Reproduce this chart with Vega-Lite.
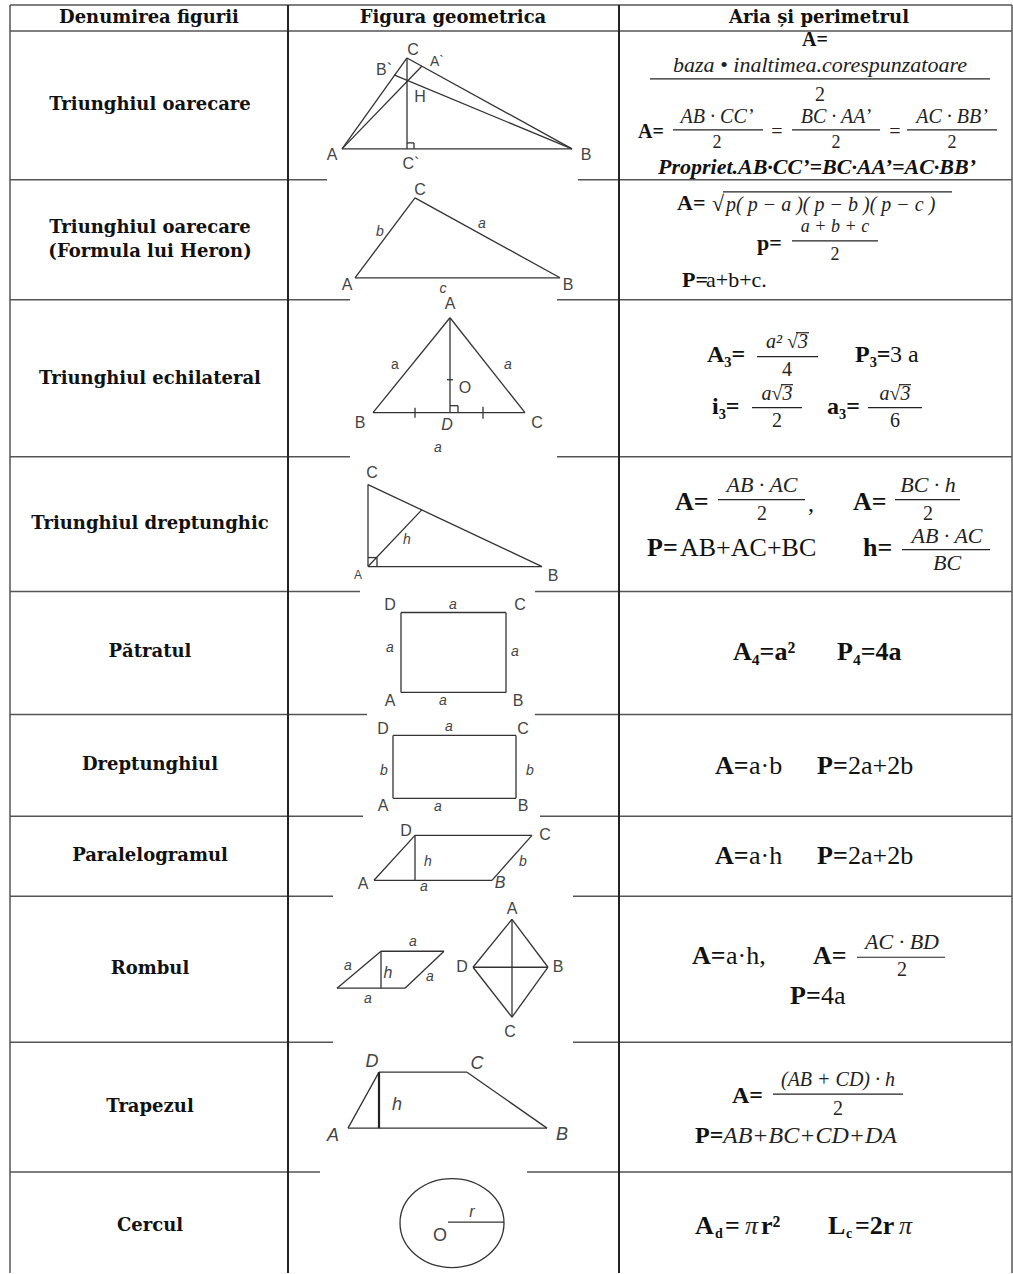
{
  "$schema": "https://vega.github.io/schema/vega-lite/v6.json",
  "width": 1013,
  "height": 1274,
  "autosize": {"type": "fit", "contains": "padding"},
  "padding": 0,
  "background": "white",
  "config": {"view": {"stroke": null}},
  "datasets": {
    "segs": [
      {"k":"grid","x":10,"y":5,"x2":1012,"y2":5},
      {"k":"grid","x":10,"y":31,"x2":1012,"y2":31},
      {"k":"grid","x":10,"y":180,"x2":327,"y2":180},
      {"k":"grid","x":578,"y":180,"x2":1012,"y2":180},
      {"k":"grid","x":10,"y":300,"x2":350,"y2":300},
      {"k":"grid","x":557,"y":300,"x2":1012,"y2":300},
      {"k":"grid","x":10,"y":457,"x2":350,"y2":457},
      {"k":"grid","x":557,"y":457,"x2":1012,"y2":457},
      {"k":"grid","x":10,"y":592,"x2":360,"y2":592},
      {"k":"grid","x":535,"y":592,"x2":1012,"y2":592},
      {"k":"grid","x":10,"y":715,"x2":367,"y2":715},
      {"k":"grid","x":535,"y":715,"x2":1012,"y2":715},
      {"k":"grid","x":10,"y":817,"x2":363,"y2":817},
      {"k":"grid","x":540,"y":817,"x2":1012,"y2":817},
      {"k":"grid","x":10,"y":897,"x2":333,"y2":897},
      {"k":"grid","x":573,"y":897,"x2":1012,"y2":897},
      {"k":"grid","x":10,"y":1043,"x2":333,"y2":1043},
      {"k":"grid","x":573,"y":1043,"x2":1012,"y2":1043},
      {"k":"grid","x":10,"y":1173,"x2":320,"y2":1173},
      {"k":"grid","x":527,"y":1173,"x2":1012,"y2":1173},
      {"k":"grid","x":10,"y":5,"x2":10,"y2":1274},
      {"k":"grid","x":1012,"y":5,"x2":1012,"y2":1274},
      {"k":"col","x":288,"y":5,"x2":288,"y2":1274},
      {"k":"col","x":619,"y":5,"x2":619,"y2":1274},

      {"k":"fig","x":342,"y":149,"x2":572,"y2":149},
      {"k":"fig","x":342,"y":149,"x2":407,"y2":58},
      {"k":"fig","x":407,"y":58,"x2":572,"y2":149},
      {"k":"fig","x":407,"y":58,"x2":407,"y2":149},
      {"k":"fig","x":342,"y":149,"x2":422,"y2":66},
      {"k":"fig","x":572,"y":149,"x2":394,"y2":75},
      {"k":"fig","x":407,"y":143,"x2":414,"y2":143},
      {"k":"fig","x":414,"y":143,"x2":414,"y2":149},

      {"k":"fig","x":355,"y":278,"x2":560,"y2":278},
      {"k":"fig","x":355,"y":278,"x2":415,"y2":198},
      {"k":"fig","x":415,"y":198,"x2":560,"y2":278},

      {"k":"fig","x":450,"y":318,"x2":373,"y2":413},
      {"k":"fig","x":450,"y":318,"x2":525,"y2":413},
      {"k":"fig","x":373,"y":413,"x2":525,"y2":413},
      {"k":"fig","x":450,"y":318,"x2":450,"y2":413},
      {"k":"fig","x":450,"y":406,"x2":458,"y2":406},
      {"k":"fig","x":458,"y":406,"x2":458,"y2":413},
      {"k":"fig","x":415,"y":408,"x2":415,"y2":418},
      {"k":"fig","x":483,"y":407,"x2":483,"y2":419},
      {"k":"fig","x":447,"y":380,"x2":453,"y2":380},

      {"k":"fig","x":368,"y":485,"x2":368,"y2":567},
      {"k":"fig","x":368,"y":567,"x2":542,"y2":567},
      {"k":"fig","x":368,"y":485,"x2":542,"y2":567},
      {"k":"fig","x":368,"y":567,"x2":422,"y2":510},
      {"k":"fig","x":368,"y":558,"x2":377,"y2":558},
      {"k":"fig","x":377,"y":558,"x2":377,"y2":567},

      {"k":"fig","x":401,"y":613,"x2":506,"y2":613},
      {"k":"fig","x":506,"y":613,"x2":506,"y2":693},
      {"k":"fig","x":506,"y":693,"x2":401,"y2":693},
      {"k":"fig","x":401,"y":693,"x2":401,"y2":613},

      {"k":"fig","x":393,"y":736,"x2":516,"y2":736},
      {"k":"fig","x":516,"y":736,"x2":516,"y2":799},
      {"k":"fig","x":516,"y":799,"x2":393,"y2":799},
      {"k":"fig","x":393,"y":799,"x2":393,"y2":736},

      {"k":"fig","x":374,"y":881,"x2":492,"y2":881},
      {"k":"fig","x":492,"y":881,"x2":532,"y2":836},
      {"k":"fig","x":532,"y":836,"x2":415,"y2":836},
      {"k":"fig","x":415,"y":836,"x2":374,"y2":881},
      {"k":"fig","x":415,"y":836,"x2":415,"y2":881},

      {"k":"fig","x":337,"y":989,"x2":405,"y2":989},
      {"k":"fig","x":405,"y":989,"x2":444,"y2":952},
      {"k":"fig","x":444,"y":952,"x2":381,"y2":952},
      {"k":"fig","x":381,"y":952,"x2":337,"y2":989},
      {"k":"fig","x":381,"y":952,"x2":381,"y2":989},
      {"k":"fig","x":512,"y":920,"x2":548,"y2":968},
      {"k":"fig","x":548,"y":968,"x2":512,"y2":1018},
      {"k":"fig","x":512,"y":1018,"x2":473,"y2":968},
      {"k":"fig","x":473,"y":968,"x2":512,"y2":920},
      {"k":"fig","x":512,"y":920,"x2":512,"y2":1018},
      {"k":"fig","x":473,"y":968,"x2":548,"y2":968},

      {"k":"fig","x":348,"y":1129,"x2":547,"y2":1129},
      {"k":"fig","x":547,"y":1129,"x2":467,"y2":1073},
      {"k":"fig","x":467,"y":1073,"x2":379,"y2":1073},
      {"k":"fig","x":379,"y":1073,"x2":348,"y2":1129},
      {"k":"thick","x":379,"y":1073,"x2":379,"y2":1129},

      {"k":"fig","x":448,"y":1223,"x2":504,"y2":1223},

      {"k":"bar","x":650,"y":79,"x2":990,"y2":79},
      {"k":"bar","x":673,"y":130,"x2":763,"y2":130},
      {"k":"bar","x":792,"y":130,"x2":880,"y2":130},
      {"k":"bar","x":907,"y":130,"x2":997,"y2":130},
      {"k":"bar","x":723,"y":192,"x2":952,"y2":192},
      {"k":"bar","x":792,"y":241,"x2":878,"y2":241},
      {"k":"bar","x":796,"y":333,"x2":809,"y2":333},
      {"k":"bar","x":757,"y":357,"x2":818,"y2":357},
      {"k":"bar","x":781,"y":385,"x2":793,"y2":385},
      {"k":"bar","x":752,"y":408,"x2":802,"y2":408},
      {"k":"bar","x":899,"y":385,"x2":911,"y2":385},
      {"k":"bar","x":868,"y":408,"x2":922,"y2":408},
      {"k":"bar","x":718,"y":500,"x2":805,"y2":500},
      {"k":"bar","x":895,"y":500,"x2":960,"y2":500},
      {"k":"bar","x":902,"y":550,"x2":990,"y2":550},
      {"k":"bar","x":857,"y":958,"x2":945,"y2":958},
      {"k":"bar","x":773,"y":1095,"x2":903,"y2":1095}
    ],
    "circ": [
      {"x":452,"y":1224}
    ],
    "texts": [
      {"k":"T","t":"Denumirea figurii","x":149,"y":18,"s":"d"},
      {"k":"T","t":"Figura geometrica","x":453,"y":18,"s":"d"},
      {"k":"T","t":"Aria și perimetrul","x":819,"y":18,"s":"d"},
      {"k":"T","t":"Triunghiul oarecare","x":150,"y":105,"s":"d"},
      {"k":"T","t":"Triunghiul oarecare","x":150,"y":228,"s":"d"},
      {"k":"T","t":"(Formula lui Heron)","x":150,"y":252,"s":"d"},
      {"k":"T","t":"Triunghiul echilateral","x":150,"y":379,"s":"d"},
      {"k":"T","t":"Triunghiul dreptunghic","x":150,"y":524,"s":"d"},
      {"k":"T","t":"Pătratul","x":150,"y":653,"s":"d"},
      {"k":"T","t":"Dreptunghiul","x":150,"y":766,"s":"d"},
      {"k":"T","t":"Paralelogramul","x":150,"y":857,"s":"d"},
      {"k":"T","t":"Rombul","x":150,"y":970,"s":"d"},
      {"k":"T","t":"Trapezul","x":150,"y":1108,"s":"d"},
      {"k":"T","t":"Cercul","x":150,"y":1227,"s":"d"},

      {"k":"BC","t":"A=","x":815,"y":40,"s":"e"},
      {"k":"IC","t":"baza • inaltimea.corespunzatoare","x":820,"y":65,"s":"f"},
      {"k":"RC","t":"2","x":820,"y":95,"s":"e"},
      {"k":"BL","t":"A=","x":638,"y":132,"s":"e"},
      {"k":"IC","t":"AB · CC’","x":717,"y":117,"s":"e"},
      {"k":"RC","t":"2","x":717,"y":143,"s":"d"},
      {"k":"RC","t":"=","x":777,"y":132,"s":"e"},
      {"k":"IC","t":"BC · AA’","x":836,"y":117,"s":"e"},
      {"k":"RC","t":"2","x":836,"y":143,"s":"d"},
      {"k":"RC","t":"=","x":895,"y":132,"s":"e"},
      {"k":"IC","t":"AC · BB’","x":952,"y":117,"s":"e"},
      {"k":"RC","t":"2","x":952,"y":143,"s":"d"},
      {"k":"BIC","t":"Propriet.AB·CC’=BC·AA’=AC·BB’","x":817,"y":167,"s":"f"},

      {"k":"BL","t":"A=","x":677,"y":203,"s":"f"},
      {"k":"RL","t":"√","x":712,"y":204,"s":"f"},
      {"k":"IL","t":"p( p − a )( p − b )( p − c )","x":726,"y":205,"s":"e"},
      {"k":"BL","t":"p=","x":757,"y":243,"s":"f"},
      {"k":"IC","t":"a + b + c","x":835,"y":227,"s":"d"},
      {"k":"RC","t":"2","x":835,"y":255,"s":"d"},
      {"k":"BL","t":"P=","x":682,"y":280,"s":"f"},
      {"k":"RL","t":"a+b+c.","x":706,"y":280,"s":"f"},

      {"k":"BL","t":"A₃=","x":707,"y":355,"s":"g"},
      {"k":"IC","t":"a² √3","x":787,"y":342,"s":"e"},
      {"k":"RC","t":"4","x":787,"y":370,"s":"e"},
      {"k":"BL","t":"P₃=","x":855,"y":355,"s":"g"},
      {"k":"RL","t":"3 a","x":890,"y":355,"s":"g"},
      {"k":"BL","t":"i₃=","x":712,"y":407,"s":"g"},
      {"k":"IC","t":"a√3","x":777,"y":394,"s":"e"},
      {"k":"RC","t":"2","x":777,"y":421,"s":"e"},
      {"k":"BL","t":"a₃=","x":827,"y":407,"s":"g"},
      {"k":"IC","t":"a√3","x":895,"y":394,"s":"e"},
      {"k":"RC","t":"6","x":895,"y":421,"s":"e"},

      {"k":"BL","t":"A=","x":675,"y":502,"s":"h"},
      {"k":"IC","t":"AB · AC","x":762,"y":485,"s":"f"},
      {"k":"RC","t":"2","x":762,"y":514,"s":"e"},
      {"k":"RL","t":",","x":808,"y":504,"s":"g"},
      {"k":"BL","t":"A=","x":853,"y":502,"s":"h"},
      {"k":"IC","t":"BC · h","x":928,"y":485,"s":"f"},
      {"k":"RC","t":"2","x":928,"y":514,"s":"e"},
      {"k":"BL","t":"P=","x":647,"y":548,"s":"h"},
      {"k":"RL","t":"AB+AC+BC","x":680,"y":548,"s":"h"},
      {"k":"BL","t":"h=","x":863,"y":548,"s":"h"},
      {"k":"IC","t":"AB · AC","x":947,"y":536,"s":"f"},
      {"k":"IC","t":"BC","x":947,"y":563,"s":"f"},

      {"k":"BL","t":"A₄=a²","x":733,"y":653,"s":"h"},
      {"k":"BL","t":"P₄=4a","x":837,"y":653,"s":"h"},

      {"k":"BL","t":"A=","x":715,"y":767,"s":"h"},
      {"k":"RL","t":"a·b","x":749,"y":767,"s":"h"},
      {"k":"BL","t":"P=","x":817,"y":767,"s":"h"},
      {"k":"RL","t":"2a+2b","x":848,"y":767,"s":"h"},

      {"k":"BL","t":"A=","x":715,"y":857,"s":"h"},
      {"k":"RL","t":"a·h","x":749,"y":857,"s":"h"},
      {"k":"BL","t":"P=","x":817,"y":857,"s":"h"},
      {"k":"RL","t":"2a+2b","x":848,"y":857,"s":"h"},

      {"k":"BL","t":"A=","x":692,"y":957,"s":"h"},
      {"k":"RL","t":"a·h,","x":726,"y":957,"s":"h"},
      {"k":"BL","t":"A=","x":813,"y":957,"s":"h"},
      {"k":"IC","t":"AC · BD","x":902,"y":943,"s":"f"},
      {"k":"RC","t":"2","x":902,"y":971,"s":"e"},
      {"k":"BL","t":"P=","x":790,"y":997,"s":"h"},
      {"k":"RL","t":"4a","x":821,"y":997,"s":"h"},

      {"k":"BL","t":"A=","x":732,"y":1097,"s":"g"},
      {"k":"IC","t":"(AB + CD) · h","x":838,"y":1081,"s":"e"},
      {"k":"RC","t":"2","x":838,"y":1110,"s":"e"},
      {"k":"BL","t":"P=","x":695,"y":1137,"s":"g"},
      {"k":"IL","t":"AB+BC+CD+DA","x":723,"y":1137,"s":"g"},

      {"k":"BL","t":"A","x":695,"y":1227,"s":"h"},
      {"k":"BL","t":"d","x":715,"y":1235,"s":"b"},
      {"k":"BL","t":"=","x":725,"y":1227,"s":"h"},
      {"k":"IL","t":"π","x":745,"y":1227,"s":"h"},
      {"k":"BL","t":"r²","x":761,"y":1227,"s":"h"},
      {"k":"BL","t":"L","x":828,"y":1227,"s":"h"},
      {"k":"BL","t":"c","x":846,"y":1235,"s":"b"},
      {"k":"BL","t":"=2r","x":855,"y":1227,"s":"h"},
      {"k":"IL","t":"π","x":899,"y":1227,"s":"h"},

      {"k":"FC","t":"C","x":413,"y":50,"s":"c"},
      {"k":"FC","t":"A`","x":437,"y":62,"s":"b"},
      {"k":"FC","t":"B`","x":384,"y":70,"s":"c"},
      {"k":"FC","t":"H","x":420,"y":97,"s":"c"},
      {"k":"FC","t":"A","x":332,"y":155,"s":"c"},
      {"k":"FC","t":"C`","x":411,"y":164,"s":"c"},
      {"k":"FC","t":"B","x":586,"y":155,"s":"c"},

      {"k":"FC","t":"C","x":420,"y":190,"s":"c"},
      {"k":"FIC","t":"b","x":380,"y":232,"s":"b"},
      {"k":"FIC","t":"a","x":482,"y":224,"s":"b"},
      {"k":"FC","t":"A","x":347,"y":285,"s":"c"},
      {"k":"FIC","t":"c","x":443,"y":289,"s":"b"},
      {"k":"FC","t":"B","x":568,"y":285,"s":"c"},

      {"k":"FC","t":"A","x":450,"y":304,"s":"c"},
      {"k":"FC","t":"a","x":395,"y":365,"s":"b"},
      {"k":"FIC","t":"a","x":508,"y":365,"s":"b"},
      {"k":"FC","t":"O","x":465,"y":388,"s":"c"},
      {"k":"FC","t":"B","x":360,"y":423,"s":"c"},
      {"k":"FIC","t":"D","x":447,"y":425,"s":"c"},
      {"k":"FC","t":"C","x":537,"y":423,"s":"c"},
      {"k":"FIC","t":"a","x":438,"y":448,"s":"b"},

      {"k":"FC","t":"C","x":372,"y":473,"s":"c"},
      {"k":"FIC","t":"h","x":407,"y":540,"s":"b"},
      {"k":"FC","t":"A","x":358,"y":575,"s":"a"},
      {"k":"FC","t":"B","x":553,"y":576,"s":"c"},

      {"k":"FC","t":"D","x":390,"y":605,"s":"c"},
      {"k":"FIC","t":"a","x":453,"y":605,"s":"b"},
      {"k":"FC","t":"C","x":520,"y":605,"s":"c"},
      {"k":"FIC","t":"a","x":390,"y":649,"s":"b"},
      {"k":"FIC","t":"a","x":515,"y":653,"s":"b"},
      {"k":"FC","t":"A","x":390,"y":702,"s":"c"},
      {"k":"FIC","t":"a","x":443,"y":702,"s":"b"},
      {"k":"FC","t":"B","x":518,"y":702,"s":"c"},

      {"k":"FC","t":"D","x":383,"y":730,"s":"c"},
      {"k":"FIC","t":"a","x":449,"y":728,"s":"b"},
      {"k":"FC","t":"C","x":523,"y":730,"s":"c"},
      {"k":"FIC","t":"b","x":384,"y":772,"s":"b"},
      {"k":"FIC","t":"b","x":530,"y":772,"s":"b"},
      {"k":"FC","t":"A","x":383,"y":807,"s":"c"},
      {"k":"FIC","t":"a","x":438,"y":808,"s":"b"},
      {"k":"FC","t":"B","x":523,"y":807,"s":"c"},

      {"k":"FC","t":"D","x":406,"y":832,"s":"c"},
      {"k":"FC","t":"C","x":545,"y":836,"s":"c"},
      {"k":"FIC","t":"h","x":428,"y":863,"s":"b"},
      {"k":"FIC","t":"b","x":523,"y":863,"s":"b"},
      {"k":"FC","t":"A","x":363,"y":885,"s":"c"},
      {"k":"FIC","t":"a","x":424,"y":888,"s":"b"},
      {"k":"FIC","t":"B","x":500,"y":884,"s":"c"},

      {"k":"FIC","t":"a","x":413,"y":943,"s":"b"},
      {"k":"FIC","t":"a","x":348,"y":967,"s":"b"},
      {"k":"FIC","t":"h","x":388,"y":974,"s":"c"},
      {"k":"FIC","t":"a","x":430,"y":978,"s":"b"},
      {"k":"FIC","t":"a","x":368,"y":1000,"s":"b"},
      {"k":"FC","t":"A","x":512,"y":910,"s":"c"},
      {"k":"FC","t":"B","x":558,"y":968,"s":"c"},
      {"k":"FC","t":"C","x":510,"y":1033,"s":"c"},
      {"k":"FC","t":"D","x":462,"y":968,"s":"c"},

      {"k":"FIC","t":"D","x":372,"y":1063,"s":"d"},
      {"k":"FIC","t":"C","x":477,"y":1065,"s":"d"},
      {"k":"FIC","t":"h","x":397,"y":1106,"s":"d"},
      {"k":"FIC","t":"A","x":333,"y":1137,"s":"d"},
      {"k":"FIC","t":"B","x":562,"y":1136,"s":"d"},

      {"k":"FIC","t":"r","x":472,"y":1213,"s":"c"},
      {"k":"FC","t":"O","x":440,"y":1237,"s":"d"}
    ]
  },
  "encoding": {
    "x": {"field": "x", "type": "quantitative", "scale": {"domain": [0, 1013], "nice": false, "zero": false}, "axis": null},
    "y": {"field": "y", "type": "quantitative", "scale": {"domain": [0, 1274], "nice": false, "zero": false, "reverse": true}, "axis": null}
  },
  "layer": [
    {
      "data": {"name": "segs"},
      "transform": [{"filter": "datum.k === 'grid'"}],
      "mark": {"type": "rule", "stroke": "#555555", "strokeWidth": 1.5},
      "encoding": {"x2": {"field": "x2"}, "y2": {"field": "y2"}}
    },
    {
      "data": {"name": "segs"},
      "transform": [{"filter": "datum.k === 'col'"}],
      "mark": {"type": "rule", "stroke": "#222222", "strokeWidth": 2},
      "encoding": {"x2": {"field": "x2"}, "y2": {"field": "y2"}}
    },
    {
      "data": {"name": "segs"},
      "transform": [{"filter": "datum.k === 'fig'"}],
      "mark": {"type": "rule", "stroke": "#333333", "strokeWidth": 1.3},
      "encoding": {"x2": {"field": "x2"}, "y2": {"field": "y2"}}
    },
    {
      "data": {"name": "segs"},
      "transform": [{"filter": "datum.k === 'thick'"}],
      "mark": {"type": "rule", "stroke": "#222222", "strokeWidth": 2.2},
      "encoding": {"x2": {"field": "x2"}, "y2": {"field": "y2"}}
    },
    {
      "data": {"name": "segs"},
      "transform": [{"filter": "datum.k === 'bar'"}],
      "mark": {"type": "rule", "stroke": "#222222", "strokeWidth": 1.2},
      "encoding": {"x2": {"field": "x2"}, "y2": {"field": "y2"}}
    },
    {
      "data": {"name": "circ"},
      "mark": {"type": "point", "shape": "M -1 0 A 1 0.856 0 1 1 1 0 A 1 0.856 0 1 1 -1 0 Z", "size": 10816, "filled": false, "stroke": "#333333", "strokeWidth": 1.3, "opacity": 1}
    },
    {
      "data": {"name": "texts"},
      "transform": [{"filter": "datum.k === 'T'"}],
      "mark": {"type": "text", "font": "DejaVu Serif", "fontWeight": "bold", "align": "center", "baseline": "middle", "fill": "#111111"},
      "encoding": {"text": {"field": "t"}, "size": {"field": "s", "type": "ordinal", "scale": {"type": "point", "padding": 0, "domain": ["a","b","c","d","e","f","g","h","i"], "range": [12, 28]}, "legend": null}}
    },
    {
      "data": {"name": "texts"},
      "transform": [{"filter": "datum.k === 'BC'"}],
      "mark": {"type": "text", "font": "Liberation Serif", "fontWeight": "bold", "align": "center", "baseline": "middle", "fill": "#111111"},
      "encoding": {"text": {"field": "t"}, "size": {"field": "s", "type": "ordinal", "scale": {"type": "point", "padding": 0, "domain": ["a","b","c","d","e","f","g","h","i"], "range": [12, 28]}, "legend": null}}
    },
    {
      "data": {"name": "texts"},
      "transform": [{"filter": "datum.k === 'BL'"}],
      "mark": {"type": "text", "font": "Liberation Serif", "fontWeight": "bold", "align": "left", "baseline": "middle", "fill": "#111111"},
      "encoding": {"text": {"field": "t"}, "size": {"field": "s", "type": "ordinal", "scale": {"type": "point", "padding": 0, "domain": ["a","b","c","d","e","f","g","h","i"], "range": [12, 28]}, "legend": null}}
    },
    {
      "data": {"name": "texts"},
      "transform": [{"filter": "datum.k === 'RC'"}],
      "mark": {"type": "text", "font": "Liberation Serif", "align": "center", "baseline": "middle", "fill": "#222222"},
      "encoding": {"text": {"field": "t"}, "size": {"field": "s", "type": "ordinal", "scale": {"type": "point", "padding": 0, "domain": ["a","b","c","d","e","f","g","h","i"], "range": [12, 28]}, "legend": null}}
    },
    {
      "data": {"name": "texts"},
      "transform": [{"filter": "datum.k === 'RL'"}],
      "mark": {"type": "text", "font": "Liberation Serif", "align": "left", "baseline": "middle", "fill": "#111111"},
      "encoding": {"text": {"field": "t"}, "size": {"field": "s", "type": "ordinal", "scale": {"type": "point", "padding": 0, "domain": ["a","b","c","d","e","f","g","h","i"], "range": [12, 28]}, "legend": null}}
    },
    {
      "data": {"name": "texts"},
      "transform": [{"filter": "datum.k === 'IC'"}],
      "mark": {"type": "text", "font": "Liberation Serif", "fontStyle": "italic", "align": "center", "baseline": "middle", "fill": "#222222"},
      "encoding": {"text": {"field": "t"}, "size": {"field": "s", "type": "ordinal", "scale": {"type": "point", "padding": 0, "domain": ["a","b","c","d","e","f","g","h","i"], "range": [12, 28]}, "legend": null}}
    },
    {
      "data": {"name": "texts"},
      "transform": [{"filter": "datum.k === 'IL'"}],
      "mark": {"type": "text", "font": "Liberation Serif", "fontStyle": "italic", "align": "left", "baseline": "middle", "fill": "#222222"},
      "encoding": {"text": {"field": "t"}, "size": {"field": "s", "type": "ordinal", "scale": {"type": "point", "padding": 0, "domain": ["a","b","c","d","e","f","g","h","i"], "range": [12, 28]}, "legend": null}}
    },
    {
      "data": {"name": "texts"},
      "transform": [{"filter": "datum.k === 'BIC'"}],
      "mark": {"type": "text", "font": "Liberation Serif", "fontWeight": "bold", "fontStyle": "italic", "align": "center", "baseline": "middle", "fill": "#111111"},
      "encoding": {"text": {"field": "t"}, "size": {"field": "s", "type": "ordinal", "scale": {"type": "point", "padding": 0, "domain": ["a","b","c","d","e","f","g","h","i"], "range": [12, 28]}, "legend": null}}
    },
    {
      "data": {"name": "texts"},
      "transform": [{"filter": "datum.k === 'FC'"}],
      "mark": {"type": "text", "font": "Liberation Sans", "align": "center", "baseline": "middle", "fill": "#444444"},
      "encoding": {"text": {"field": "t"}, "size": {"field": "s", "type": "ordinal", "scale": {"type": "point", "padding": 0, "domain": ["a","b","c","d","e","f","g","h","i"], "range": [12, 28]}, "legend": null}}
    },
    {
      "data": {"name": "texts"},
      "transform": [{"filter": "datum.k === 'FIC'"}],
      "mark": {"type": "text", "font": "Liberation Sans", "fontStyle": "italic", "align": "center", "baseline": "middle", "fill": "#444444"},
      "encoding": {"text": {"field": "t"}, "size": {"field": "s", "type": "ordinal", "scale": {"type": "point", "padding": 0, "domain": ["a","b","c","d","e","f","g","h","i"], "range": [12, 28]}, "legend": null}}
    }
  ]
}
